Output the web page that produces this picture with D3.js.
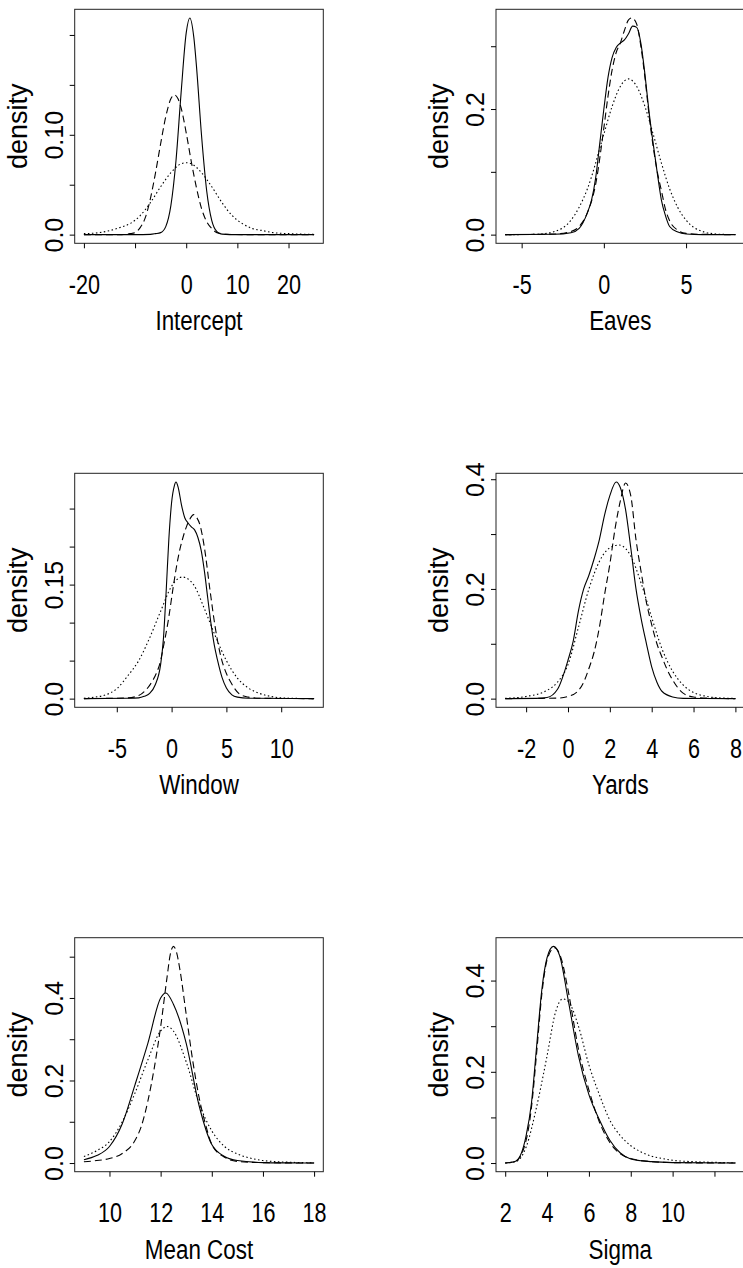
<!DOCTYPE html>
<html><head><meta charset="utf-8">
<script src="https://cdn.jsdelivr.net/npm/d3@7"></script>
<style>
body{margin:0;background:#fff}
svg{display:block}
text{font-family:"Liberation Sans",Arial,Helvetica,sans-serif;fill:#000}
</style>
</head><body>
<svg id="chart" width="743" height="1268"></svg>
<script>
// ---------- data (x, density) ----------
const interceptSolid = [[-20,0],[-10,0],[-7,0.0003],[-6,0.001],[-5,0.002],[-4,0.008],[-3,0.029],[-2,0.074],[-1,0.142],[0,0.202],[0.7,0.217],[1.5,0.197],[2,0.169],[3,0.099],[4,0.044],[5,0.014],[6,0.003],[7,0.0005],[10,0],[25,0]];
const interceptDashed = [[-20,0],[-13,0],[-11,0.001],[-10,0.002],[-9,0.007],[-8,0.017],[-7,0.036],[-6,0.062],[-5,0.091],[-4,0.118],[-3,0.136],[-2.3,0.14],[-1.6,0.136],[-1,0.127],[0,0.102],[1,0.073],[2,0.047],[3,0.026],[4,0.013],[5,0.006],[6,0.002],[8,0.0003],[12,0],[25,0]];
const interceptDotted = [[-20,0.001],[-17,0.002],[-15,0.004],[-13,0.007],[-11,0.011],[-9,0.019],[-7,0.032],[-5,0.048],[-3,0.062],[-1,0.071],[0,0.072],[1,0.071],[3,0.062],[5,0.048],[7,0.032],[9,0.019],[11,0.011],[13,0.006],[15,0.004],[17,0.002],[20,0.001],[25,0.0002]];

const eavesSolid = [[-6,0],[-3,0.0005],[-2,0.003],[-1.5,0.01],[-1,0.035],[-0.75,0.055],[-0.5,0.09],[-0.25,0.145],[0,0.2],[0.25,0.25],[0.5,0.282],[0.75,0.298],[1,0.305],[1.25,0.31],[1.5,0.32],[1.75,0.332],[2,0.33],[2.25,0.305],[2.5,0.255],[2.75,0.195],[3,0.145],[3.25,0.098],[3.5,0.055],[3.75,0.03],[4,0.013],[4.5,0.004],[5,0.001],[6,0],[8,0]];
const eavesDashed = [[-6,0],[-3,0.001],[-2,0.005],[-1.5,0.013],[-1,0.035],[-0.5,0.08],[0,0.17],[0.25,0.22],[0.5,0.262],[0.75,0.29],[1,0.305],[1.25,0.325],[1.5,0.342],[1.7,0.345],[2,0.335],[2.25,0.3],[2.5,0.25],[2.75,0.19],[3,0.14],[3.25,0.1],[3.5,0.07],[3.75,0.04],[4,0.022],[4.5,0.007],[5,0.002],[6,0.0005],[8,0]];
const eavesDotted = [[-6,0],[-5,0.0001],[-4,0.0007],[-3,0.005],[-2,0.023],[-1,0.073],[0,0.16],[0.5,0.204],[1,0.236],[1.5,0.248],[2,0.236],[2.5,0.204],[3,0.16],[3.5,0.114],[4,0.073],[4.5,0.043],[5,0.023],[6,0.005],[7,0.0007],[8,0.0001]];

const windowSolid = [[-8,0],[-4,0.0005],[-3,0.001],[-2.5,0.003],[-2,0.007],[-1.5,0.018],[-1,0.045],[-0.75,0.078],[-0.5,0.14],[-0.25,0.21],[0,0.258],[0.25,0.28],[0.4,0.285],[0.6,0.278],[0.9,0.255],[1.2,0.238],[1.5,0.231],[1.8,0.226],[2.1,0.222],[2.4,0.212],[2.7,0.195],[3,0.167],[3.3,0.132],[3.6,0.098],[3.9,0.07],[4.2,0.05],[4.6,0.028],[5,0.014],[5.5,0.005],[6,0.002],[7,0.0005],[13,0]];
const windowDashed = [[-8,0],[-4,0.001],[-3,0.004],[-2.3,0.012],[-1.8,0.022],[-1.4,0.033],[-1,0.05],[-0.75,0.068],[-0.3,0.103],[0.15,0.147],[0.5,0.178],[0.75,0.196],[1,0.21],[1.35,0.226],[1.7,0.237],[2,0.242],[2.3,0.238],[2.6,0.228],[3,0.198],[3.5,0.143],[4,0.092],[4.5,0.055],[5,0.033],[5.5,0.019],[6.2,0.006],[7,0.002],[8,0.0005],[13,0]];
const windowDotted = [[-8,0.0005],[-7,0.002],[-6,0.005],[-5,0.013],[-4,0.03],[-3,0.05],[-2,0.08],[-1,0.115],[0,0.148],[1,0.16],[2,0.15],[3,0.118],[4,0.082],[5,0.05],[6,0.027],[7,0.014],[8,0.007],[9,0.003],[10,0.001],[11,0.0005],[13,0]];

const yardsSolid = [[-3,0],[-1.5,0.0005],[-1,0.002],[-0.5,0.017],[0,0.07],[0.25,0.105],[0.5,0.16],[0.75,0.2],[1,0.225],[1.25,0.255],[1.5,0.29],[1.75,0.335],[2,0.37],[2.3,0.395],[2.5,0.385],[2.75,0.345],[3,0.275],[3.25,0.2],[3.5,0.145],[3.75,0.1],[4,0.058],[4.25,0.03],[4.5,0.013],[5,0.003],[5.5,0.0005],[8,0]];
const yardsDashed = [[-3,0],[-0.5,0.001],[0,0.004],[0.5,0.015],[0.75,0.03],[1,0.055],[1.25,0.085],[1.5,0.13],[1.75,0.19],[2,0.245],[2.25,0.31],[2.5,0.36],[2.75,0.393],[3,0.37],[3.25,0.29],[3.5,0.23],[3.75,0.175],[4,0.135],[4.25,0.1],[4.5,0.075],[4.75,0.052],[5,0.034],[5.5,0.01],[6,0.003],[7,0.0005],[8,0]];
const yardsDotted = [[-3,0.0005],[-2,0.004],[-1,0.015],[-0.5,0.03],[0,0.062],[0.5,0.13],[1,0.2],[1.5,0.25],[2,0.275],[2.45,0.28],[3,0.26],[3.5,0.21],[4,0.148],[4.5,0.09],[5,0.05],[5.5,0.025],[6,0.011],[6.5,0.005],[7,0.002],[8,0.0003]];

const meanCostSolid = [[9,0.008],[9.5,0.018],[10,0.04],[10.5,0.095],[11,0.19],[11.5,0.29],[12,0.4],[12.2,0.412],[12.5,0.385],[13,0.29],[13.5,0.14],[14,0.045],[14.5,0.016],[15,0.006],[16,0.001],[17,0.0003],[18,0]];
const meanCostDashed = [[9,0.003],[9.5,0.006],[10,0.011],[10.5,0.023],[11,0.055],[11.25,0.09],[11.5,0.15],[11.75,0.23],[12,0.33],[12.25,0.45],[12.375,0.505],[12.5,0.525],[12.625,0.51],[12.75,0.47],[13,0.36],[13.25,0.25],[13.5,0.16],[13.75,0.095],[14,0.045],[14.5,0.014],[15,0.004],[16,0.001],[18,0]];
const meanCostDotted = [[9,0.016],[9.5,0.03],[10,0.052],[10.5,0.1],[11,0.17],[11.5,0.25],[12,0.32],[12.25,0.331],[12.5,0.32],[13,0.245],[13.5,0.145],[14,0.078],[14.5,0.04],[15,0.022],[15.5,0.012],[16,0.006],[17,0.002],[18,0.0005]];

const sigmaSolid = [[2,0],[2.5,0.004],[3,0.06],[3.25,0.13],[3.5,0.255],[3.75,0.38],[4,0.45],[4.3,0.475],[4.6,0.455],[5,0.36],[5.5,0.235],[6,0.15],[6.5,0.095],[7,0.05],[7.5,0.022],[8,0.009],[9,0.003],[10,0.001],[13,0]];
const sigmaDashed = [[2,0],[2.5,0.004],[3,0.05],[3.25,0.12],[3.5,0.24],[3.75,0.37],[4,0.445],[4.35,0.472],[4.7,0.445],[5,0.38],[5.5,0.25],[6,0.16],[6.5,0.09],[7,0.045],[7.5,0.02],[8,0.01],[9,0.003],[10,0.001],[13,0]];
const sigmaDotted = [[2,0],[2.5,0.003],[3,0.035],[3.5,0.123],[4,0.235],[4.4,0.33],[4.75,0.36],[5,0.355],[5.5,0.3],[6,0.215],[6.5,0.15],[7,0.094],[7.5,0.06],[8,0.038],[8.5,0.024],[9,0.015],[9.5,0.01],[10,0.006],[11,0.003],[12,0.0015],[13,0.0005]];

// ---------- titles and ticks ----------
const panelTitles = ["Intercept","Eaves","Window","Yards","Mean Cost","Sigma"];
const yAxisTitle = "density";
const interceptXTicks = [-20,-10,0,10,20], interceptXLabels = ["-20","","0","10","20"];
const eavesXTicks = [-5,0,5], eavesXLabels = ["-5","0","5"];
const windowXTicks = [-5,0,5,10], windowXLabels = ["-5","0","5","10"];
const yardsXTicks = [-2,0,2,4,6,8], yardsXLabels = ["-2","0","2","4","6","8"];
const meanCostXTicks = [10,12,14,16,18], meanCostXLabels = ["10","12","14","16","18"];
const sigmaXTicks = [2,4,6,8,10,12], sigmaXLabels = ["2","4","6","8","10",""];
const interceptYTicks = [0,0.05,0.1,0.15,0.2], interceptYLabels = ["0.0","","0.10","",""];
const eavesYTicks = [0,0.1,0.2,0.3], eavesYLabels = ["0.0","","0.2",""];
const windowYTicks = [0,0.05,0.1,0.15,0.2,0.25], windowYLabels = ["0.0","","","0.15","",""];
const yardsYTicks = [0,0.1,0.2,0.3,0.4], yardsYLabels = ["0.0","","0.2","","0.4"];
const meanCostYTicks = [0,0.1,0.2,0.3,0.4,0.5], meanCostYLabels = ["0.0","","0.2","","0.4",""];
const sigmaYTicks = [0,0.1,0.2,0.3,0.4], sigmaYLabels = ["0.0","","0.2","","0.4"];

// ---------- assemble ----------
const panels = [
  {title: panelTitles[0], series: [interceptSolid, interceptDashed, interceptDotted], xt: interceptXTicks, xl: interceptXLabels, yt: interceptYTicks, yl: interceptYLabels},
  {title: panelTitles[1], series: [eavesSolid, eavesDashed, eavesDotted], xt: eavesXTicks, xl: eavesXLabels, yt: eavesYTicks, yl: eavesYLabels},
  {title: panelTitles[2], series: [windowSolid, windowDashed, windowDotted], xt: windowXTicks, xl: windowXLabels, yt: windowYTicks, yl: windowYLabels},
  {title: panelTitles[3], series: [yardsSolid, yardsDashed, yardsDotted], xt: yardsXTicks, xl: yardsXLabels, yt: yardsYTicks, yl: yardsYLabels},
  {title: panelTitles[4], series: [meanCostSolid, meanCostDashed, meanCostDotted], xt: meanCostXTicks, xl: meanCostXLabels, yt: meanCostYTicks, yl: meanCostYLabels},
  {title: panelTitles[5], series: [sigmaSolid, sigmaDashed, sigmaDotted], xt: sigmaXTicks, xl: sigmaXLabels, yt: sigmaYTicks, yl: sigmaYLabels}
];

const lineStyles = [null, "7,4", "1.5,2.5"];
const colX = [74.7, 496];
const rowY = [9.3, 473.3, 937.7];
const boxW = 248.6, boxH = 234;
const xFont = 27, xSquash = 0.8;      // horizontal texts look condensed
const yFont = 25;
const labFont = 28, yLabFont = 27;

const svg = d3.select("#chart");
svg.append("rect").attr("width",743).attr("height",1268).attr("fill","#fff");

panels.forEach((p, i) => {
  const bx = colX[i % 2], by = rowY[Math.floor(i / 2)];
  const all = p.series.flat();
  const xe = d3.extent(all, d => d[0]);
  const ye = d3.extent(all, d => d[1]);
  const xp = (xe[1] - xe[0]) * 0.04, yp = (ye[1] - ye[0]) * 0.04;
  const x = d3.scaleLinear().domain([xe[0] - xp, xe[1] + xp]).range([bx, bx + boxW]);
  const y = d3.scaleLinear().domain([ye[0] - yp, ye[1] + yp]).range([by + boxH, by]);
  const g = svg.append("g");

  const line = d3.line().x(d => x(d[0])).y(d => y(d[1])).curve(d3.curveMonotoneX);
  p.series.forEach((s, k) => {
    g.append("path").datum(s).attr("d", line)
      .attr("fill", "none").attr("stroke", "#000")
      .attr("stroke-width", 1.1)
      .attr("stroke-dasharray", lineStyles[k]);
  });

  g.append("rect").attr("x", bx).attr("y", by).attr("width", boxW).attr("height", boxH)
    .attr("fill", "none").attr("stroke", "#222").attr("stroke-width", 1);

  const xa = g.append("g").attr("transform", `translate(0,${by + boxH})`)
    .call(d3.axisBottom(x).tickValues(p.xt).tickFormat((d, j) => p.xl[j]).tickSize(5).tickSizeOuter(0).tickPadding(26.5));
  xa.select(".domain").remove();
  xa.selectAll("text").attr("font-size", xFont).attr("font-family", null)
    .attr("transform", `scale(${xSquash},1)`);
  xa.selectAll("line").attr("stroke", "#000");

  const ya = g.append("g").attr("transform", `translate(${bx},0)`)
    .call(d3.axisLeft(y).tickValues(p.yt).tickFormat((d, j) => p.yl[j]).tickSize(5).tickSizeOuter(0));
  ya.select(".domain").remove();
  ya.selectAll("line").attr("stroke", "#000");
  ya.selectAll("text").attr("font-size", yFont).attr("font-family", null)
    .attr("text-anchor", "middle").attr("dy", null)
    .attr("x", 0).attr("y", -12).attr("transform", "rotate(-90)");

  g.append("text").attr("transform", `translate(${bx + boxW / 2},${by + boxH + 87}) scale(${xSquash},1)`)
    .attr("text-anchor", "middle").attr("font-size", labFont).text(p.title);
  g.append("text").attr("transform", `translate(${bx - 48},${by + boxH / 2}) rotate(-90)`)
    .attr("text-anchor", "middle").attr("font-size", yLabFont).text(yAxisTitle);
});
</script>
</body></html>
